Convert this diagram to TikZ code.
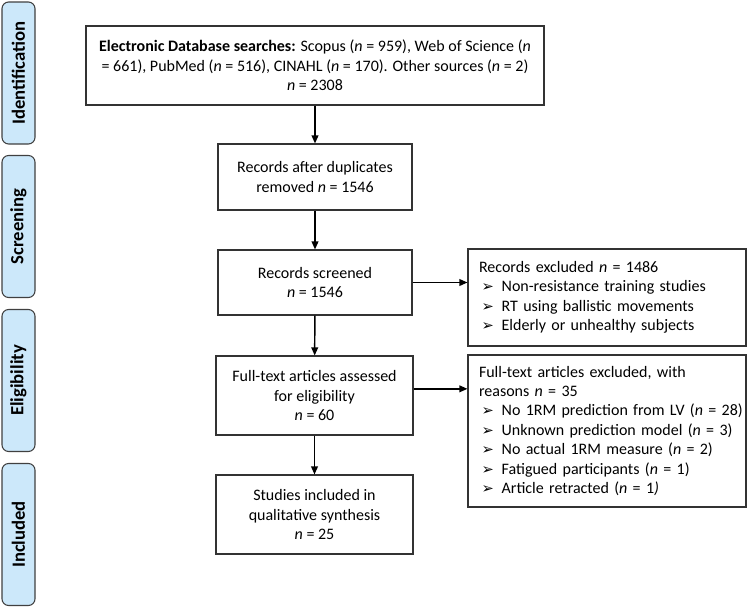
\documentclass[tikz,border=0pt]{standalone}
\usepackage{fontspec}
\setmainfont{Carlito}
\newfontfamily\dejavu{DejaVu Sans}
\usetikzlibrary{arrows.meta}
\definecolor{phaseblue}{RGB}{204,232,250}
\newcommand{\nn}{\textit{n}}
\newcommand{\lead}{\hspace*{6pt}}
\newcommand{\itm}{\hspace*{8pt}\makebox[15pt][l]{\dejavu\fontsize{11}{11}\selectfont ➢}}

\begin{document}
\begin{tikzpicture}[x=0.75pt,y=-0.75pt]
\tikzset{phase/.style={draw=black!75,line width=0.8pt,fill=phaseblue,rounded corners=5pt,
    minimum width=106.5pt,minimum height=24.75pt,inner sep=0pt,rotate=90,
    font=\fontsize{14}{16}\selectfont\bfseries}}
\tikzset{box/.style={draw=black!80,line width=0.8pt,align=center,inner sep=4pt,
    font=\fontsize{12}{14.6}\selectfont}}
\tikzset{xbox/.style={box,align=left,inner xsep=2.25pt,minimum width=208.5pt,text width=204pt}}
\tikzset{arr/.style={line width=1.1pt,-{Triangle[length=6pt,width=5pt]}}}
\useasboundingbox (0,0) rectangle (747,607);
% phases
\node[phase] (ident) at (18.5,73) {Identification};
\node[phase] (screen) at (18.5,226.5) {Screening};
\node[phase] (elig) at (18.5,380.5) {Eligibility};
\node[phase] (incl) at (18.5,534.5) {Included};
% main column
\node[box,minimum width=343.5pt,minimum height=59.25pt] (search) at (315,65.5)
    {\textbf{Electronic Database searches:} Scopus (\nn{} = 959), Web of Science (\nn\\
     = 661), PubMed (\nn{} = 516), CINAHL (\nn{} = 170). Other sources (\nn{} = 2)\\
     \nn{} = 2308};
\node[box,minimum width=145.5pt,minimum height=49.5pt] (dup) at (315,177)
    {Records after duplicates\\removed \nn{} = 1546};
\node[box,minimum width=145.5pt,minimum height=48.75pt] (scr) at (315,282.5)
    {Records screened\\\nn{} = 1546};
\node[box,minimum width=147.75pt,minimum height=59.25pt] (full) at (314.5,395.5)
    {Full-text articles assessed\\for eligibility\\\nn{} = 60};
\node[box,minimum width=147.75pt,minimum height=59.25pt] (stud) at (314.5,514.5)
    {Studies included in\\qualitative synthesis\\\nn{} = 25};
% exclusions
\node[xbox,minimum height=72.75pt] (exc1) at (607,297.5)
    {\lead Records excluded \nn{} = 1486\\
     \itm Non-resistance training studies\\
     \itm RT using ballistic movements\\
     \itm Elderly or unhealthy subjects};
\node[xbox,minimum height=114pt] (exc2) at (607,431)
    {\lead Full-text articles excluded, with\\
     \lead reasons \nn{} = 35\\
     \itm No 1RM prediction from LV (\nn{} = 28)\\
     \itm Unknown prediction model (\nn{} = 3)\\
     \itm No actual 1RM measure (\nn{} = 2)\\
     \itm Fatigued participants (\nn{} = 1)\\
     \itm Article retracted (\nn{} = 1\textit{)}};
% arrows
\draw[arr] (search) -- (dup);
\draw[arr] (dup) -- (scr);
\draw[arr] (scr) -- (full);
\draw[arr] (full) -- (stud);
\draw[arr] (scr.east) -- (scr.east -| exc1.west);
\draw[arr] ([yshift=5pt]full.east) -- ([yshift=5pt]full.east -| exc2.west);
\end{tikzpicture}
\end{document}
